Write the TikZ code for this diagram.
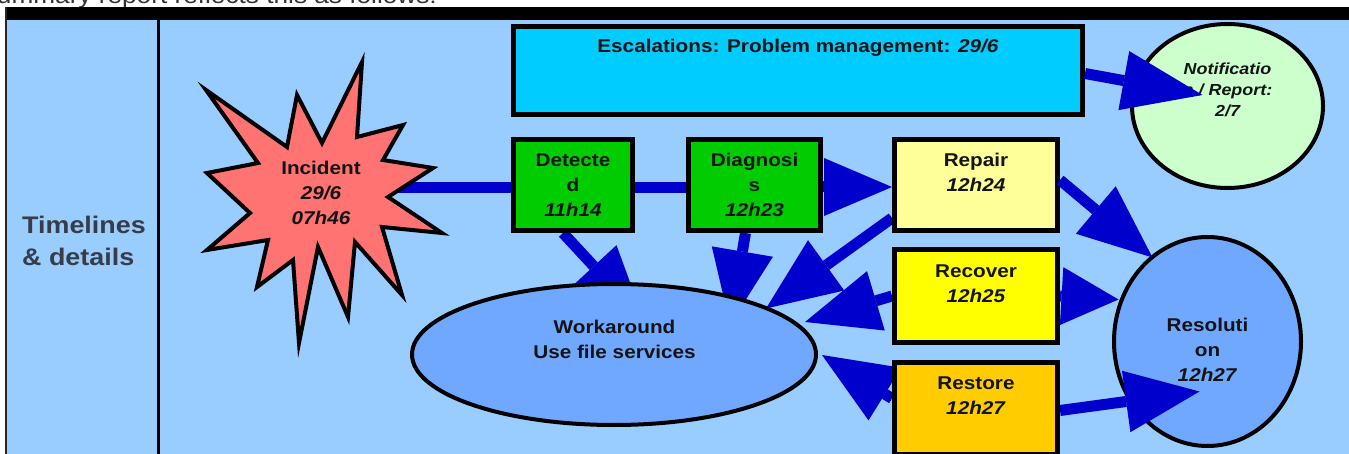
\documentclass[tikz,border=0pt]{standalone}
\usepackage{fontspec}
\setmainfont{Liberation Sans}[FakeStretch=1.12]
\usetikzlibrary{arrows.meta,shapes.geometric,calc}

\definecolor{paneblue}{HTML}{99CCFF}
\definecolor{escblue}{HTML}{00CCFF}
\definecolor{notegreen}{HTML}{CCFFCC}
\definecolor{burstred}{HTML}{FF7373}
\definecolor{stepgreen}{HTML}{00CC00}
\definecolor{paleyellow}{HTML}{FFFF99}
\definecolor{brightyellow}{HTML}{FFFF00}
\definecolor{amber}{HTML}{FFCC00}
\definecolor{ovalblue}{HTML}{70A8FF}
\definecolor{flowblue}{HTML}{0000CC}
\definecolor{inkdark}{HTML}{141414}
\definecolor{lanegray}{HTML}{373C47}
\definecolor{introgray}{HTML}{333333}

\newcommand\lblfont{\fontsize{18.5}{25}\selectfont\bfseries}
\newcommand\notefont{\fontsize{16}{21}\selectfont\bfseries\itshape}

\pgfdeclarelayer{under}
\pgfsetlayers{under,main}

\begin{document}
\begin{tikzpicture}[x=1pt,y=-1pt,
  stagebox/.style={draw=black, line width=5pt, inner sep=0pt, align=center,
    text=inkdark, font=\lblfont},
  oval/.style={draw=black, line width=4pt, ellipse, inner sep=0pt},
  caption/.style={inner sep=0pt, align=center, text=inkdark, font=\lblfont},
  link/.style={draw=flowblue, line width=11pt},
  flow/.style={draw=flowblue, line width=11pt,
    -{Triangle[length=74pt,width=62pt,line width=0pt]}},
  shortflow/.style={flow, -{Triangle[length=57pt,width=58pt,line width=0pt]}},
  diagflow/.style={flow, -{Triangle[length=68pt,width=58pt,line width=0pt]}},
  noteflow/.style={flow, -{Triangle[length=80pt,width=60pt,line width=0pt]}}]

\useasboundingbox (0,0) rectangle (1349,454);
\clip (0,0) rectangle (1349,454);

% page background and swim-lane frame
\begin{pgfonlayer}{under}
  \fill[white] (0,0) rectangle (1349,454);
  \fill[paneblue] (7,20) rectangle (1349,454);
\end{pgfonlayer}
\node[anchor=base east, inner sep=0pt, text=introgray,
  font=\fontsize{23.4}{28}\selectfont] (intro) at (437,4)
  {summary report reflects this as follows:};
\fill[black] (5,7.5) rectangle (1349,20);
\fill[black!85] (5,7.5) rectangle (7,454);
\draw[line width=3pt] (158,20) -- (158,454);

\node[anchor=west, inner sep=0pt, align=left, text=lanegray,
  font=\fontsize{24}{32}\selectfont\bfseries] (lane) at (22,240.5)
  {Timelines\\\& details};

% stages
\node[stagebox, fill=escblue, minimum width=569pt, minimum height=88pt]
  (esc) at (798,70.5) {Escalations: Problem management: \textit{29/6}\\\mbox{}\\\mbox{}};
\node[stagebox, fill=stepgreen, minimum width=119pt, minimum height=91pt]
  (det) at (573,185) {Detecte\\d\\\textit{11h14}};
\node[stagebox, fill=stepgreen, minimum width=132pt, minimum height=91pt]
  (diag) at (754.5,185) {Diagnosi\\s\\\textit{12h23}};
\node[stagebox, fill=paleyellow, minimum width=163pt, minimum height=91pt]
  (rep) at (976,185) {Repair\\\textit{12h24}\\\mbox{}};
\node[stagebox, fill=brightyellow, minimum width=163pt, minimum height=93pt]
  (rec) at (976,296) {Recover\\\textit{12h25}\\\mbox{}};
\node[stagebox, fill=amber, minimum width=163pt, minimum height=92pt]
  (rest) at (976,408.5) {Restore\\\textit{12h27}\\\mbox{}};

% incident burst
\draw[fill=burstred, line width=4pt, line join=miter]
  (206,90) -- (287,147) -- (297,95) -- (322,143) -- (362,62) -- (357,137)
  -- (403,125) -- (383,160) -- (433,168) -- (388,197) -- (442,233)
  -- (382,227) -- (402,295) -- (355,242) -- (348,317) -- (318,247)
  -- (299,343) -- (293,260) -- (257,287) -- (268,240) -- (207,250)
  -- (250,213) -- (207,173) -- (258,163) -- cycle;
\node[caption] (inc) at (321,193) {Incident\\\textit{29/6}\\\textit{07h46}};

% outcome ovals
\node[oval, fill=ovalblue, minimum width=404pt, minimum height=141pt]
  (work) at (614,354.5) {};
\node[caption] (workT) at (614.5,339) {Workaround\\Use file services};
\node[oval, fill=notegreen, minimum width=191pt, minimum height=164pt]
  (note) at (1227.5,106) {};
\node[caption, font=\notefont] (noteT) at (1227.5,90)
  {Notificatio\\n / Report:\\2/7};
\node[oval, fill=ovalblue, minimum width=187pt, minimum height=209pt]
  (res) at (1207.5,341.5) {};
\node[caption] (resT) at (1207.5,350) {Resoluti\\on\\\textit{12h27}};

% connectors running underneath the shapes
\begin{pgfonlayer}{under}
  \draw[link] (inc.east |- 0,188) -- ($(det.west)+(0,3)$);
  \draw[link] ($(det.east)+(0,3)$) -- ($(diag.west)+(0,3)$);
  \draw[flow] ($(det.south)+(-10,0)$) -- ($(work.center)+(30,-34)$);
  \draw[flow] ($(diag.south)+(-9,0)$) -- ($(work.center)+(116,-30)$);
  \draw[flow] ($(rep.west)+(0,33)$) -- ($(work.center)+(152,-46)$);
  \draw[flow] (rec.west) -- ($(work.center)+(191,-32.5)$);
  \draw[flow] ($(rest.west)+(0,-10)$) -- ($(work.center)+(208,0.5)$);
\end{pgfonlayer}

% connectors drawn over the shapes
\draw[diagflow] ($(diag.east)+(0,2)$) -- ($(rep.west)+(0,2)$);
\draw[noteflow] ($(esc.east)+(0,3)$) -- ($(note.center)+(-25,-11)$);
\draw[flow] ($(rep.east)+(0,-5)$) -- ($(res.center)+(-55,-84)$);
\draw[shortflow] (rec.east) -- ($(res.center)+(-89,-42)$);
\draw[flow] ($(rest.east)+(0,2)$) -- ($(res.center)+(-8,50)$);
\end{tikzpicture}
\end{document}
